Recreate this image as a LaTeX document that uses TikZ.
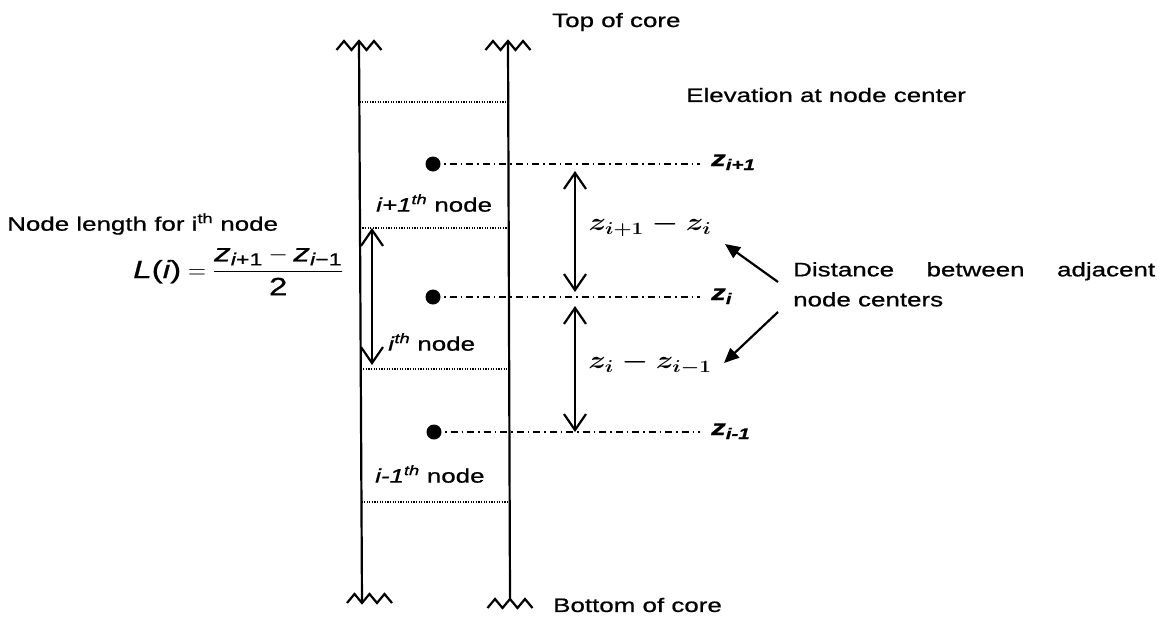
\documentclass[tikz,border=0pt]{standalone}
\usepackage[no-math]{fontspec}
\setmainfont{Liberation Sans}[FakeStretch=1.33, FakeBold=0.8]
\usepackage{amsmath}
\usepackage{graphicx}
\usetikzlibrary{arrows.meta}
\begin{document}
\begin{tikzpicture}[x=1pt,y=-1pt,
  core/.style={line width=2.2pt, line join=miter},
  sep/.style={line width=1.2pt, dash pattern=on 1.3pt off 1.3pt},
  axis/.style={line width=1.4pt, dash pattern=on 7pt off 4pt on 1.5pt off 4pt},
  dim/.style={line width=2.2pt, {Straight Barb[length=16pt,width=22pt]}-{Straight Barb[length=16pt,width=22pt]}},
  pointer/.style={line width=2.2pt, -{Triangle[length=15pt,width=13pt]}},
  lbl/.style={font=\fontsize{19.5}{30}\selectfont, inner sep=0pt},
  zlbl/.style={font=\fontsize{22}{26}\selectfont, inner sep=0pt},
  flbl/.style={font=\fontsize{25}{30}\selectfont, inner sep=0pt},
  mlbl/.style={font=\fontsize{26}{30}\selectfont, inner sep=0pt},
  dotn/.style={circle, fill=black, minimum size=15pt, inner sep=0pt},
]
\useasboundingbox (0,0) rectangle (1165,624);

% core walls
\coordinate (LT) at (359,41);
\coordinate (LB) at (362,603);
\coordinate (RT) at (508,41);
\coordinate (RB) at (510,599);
\draw[core] (LT) -- (LB);
\draw[core] (RT) -- (RB);
% break marks
\draw[core] (LT) ++(-22.5,9) -- ++(7.5,-9) -- ++(7.5,9) -- ++(7.5,-9) -- ++(7.5,9) -- ++(7.5,-9) -- ++(7.5,9);
\draw[core] (RT) ++(-22.5,9) -- ++(7.5,-9) -- ++(7.5,9) -- ++(7.5,-9) -- ++(7.5,9) -- ++(7.5,-9) -- ++(7.5,9);
\draw[core] (LB) ++(-15,0) -- ++(7.5,-9) -- ++(7.5,9) -- ++(7.5,-9) -- ++(7.5,9) -- ++(7.5,-9) -- ++(7.5,9);
\draw[core] (RB) ++(-22.5,9) -- ++(7.5,-9) -- ++(7.5,9) -- ++(7.5,-9) -- ++(7.5,9) -- ++(7.5,-9) -- ++(7.5,9);

% node boundaries
\draw[sep] (359.3,102) -- (508.2,102);
\draw[sep] (359.7,228) -- (508.7,228);
\draw[sep] (360.5,369) -- (509.2,369);
\draw[sep] (361.3,502) -- (509.6,502);

% node centers
\node[dotn] (d1) at (433,164) {};
\node[dotn] (d2) at (433,297) {};
\node[dotn] (d3) at (434,432) {};
\coordinate (e1) at (700,164);
\coordinate (e2) at (700,297);
\coordinate (e3) at (700,432);
\draw[axis] (d1.center) -- (e1);
\draw[axis] (d2.center) -- (e2);
\draw[axis] (d3.center) -- (e3);
\node[zlbl, anchor=base west] (z1) at (711,166) {\textbf{\textit{z}}\textsubscript{\textbf{\textit{i+1}}}};
\node[zlbl, anchor=base west] (z2) at (711,300) {\textbf{\textit{z}}\textsubscript{\textbf{\textit{i}}}};
\node[zlbl, anchor=base west] (z3) at (711,435) {\textbf{\textit{z}}\textsubscript{\textbf{\textit{i-1}}}};

% distance arrows
\coordinate (a1t) at (575,171);
\coordinate (a1b) at (575,292);
\coordinate (a2t) at (575,306);
\coordinate (a2b) at (575,432);
\draw[dim] (a1t) -- (a1b);
\draw[dim] (a2t) -- (a2b);
\coordinate (a3t) at (372,228);
\coordinate (a3b) at (372,365);
\draw[dim] (a3t) -- (a3b);

\node[mlbl] (m1) at (650,226) {\scalebox{1.2}[1]{$\boldsymbol{z_{i+1}-z_i}$}};
\node[mlbl] (m2) at (650,364) {\scalebox{1.2}[1]{$\boldsymbol{z_i-z_{i-1}}$}};

% texts
\node[lbl, anchor=west] (top) at (552,22) {Top of core};
\node[lbl, anchor=west] (bot) at (553,605) {Bottom of core};
\node[lbl, anchor=west] (elev) at (686,95) {Elevation at node center};
\node[lbl, anchor=west] (nlen) at (7,224) {Node length for i\textsuperscript{th} node};
\node[flbl, anchor=west] (form) at (133,271) {$\textit{L}\text{(}\textit{i}\text{)} = \dfrac{\textit{z}_{\textit{i}\text{+1}} - \textit{z}_{\textit{i}\text{−1}}}{\text{2}}$};
\node[lbl, anchor=west] (n1) at (376,203) {\textit{i+1}\textsuperscript{\textit{th}} node};
\node[lbl, anchor=west] (n2) at (388,342) {\textit{i}\textsuperscript{\textit{th}} node};
\node[lbl, anchor=west] (n3) at (375,474) {\textit{i-1}\textsuperscript{\textit{th}} node};
\node[lbl, anchor=north west, align=left] (dist) at (793,262)
  {\makebox[362pt][l]{Distance\hfill between\hfill adjacent}\\node centers};

% pointers
\coordinate (p1s) at (778,282);
\coordinate (p1e) at (725,244);
\coordinate (p2s) at (778,312);
\coordinate (p2e) at (724,363);
\draw[pointer] (p1s) -- (p1e);
\draw[pointer] (p2s) -- (p2e);
\end{tikzpicture}
\end{document}
